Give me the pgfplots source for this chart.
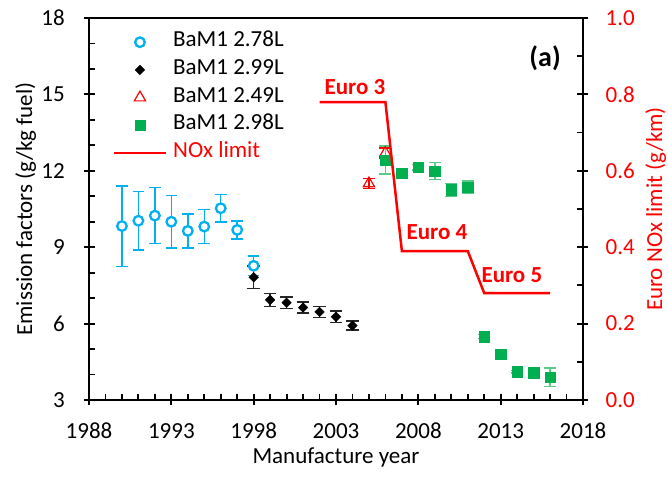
\documentclass[border=0pt]{standalone}
\usepackage{fontspec}
\setmainfont{Carlito}
\usepackage{pgfplots}
\pgfplotsset{compat=1.18}
\definecolor{ltblue}{RGB}{0,176,240}
\definecolor{exgreen}{RGB}{0,176,80}
\definecolor{exgreenbar}{RGB}{90,200,135}

\begin{document}
\begin{tikzpicture}[font=\fontsize{23bp}{27bp}\selectfont]
\pgfplotsset{
  legimg/.style={legend image code/.code={%
      \draw[mark repeat=2,mark phase=2,##1] plot coordinates {(0bp,0bp)(26bp,0bp)(52bp,0bp)};}},
  common/.style={
    scale only axis, width=494bp, height=382bp,
    xmin=1988, xmax=2018,
    /pgf/number format/assume math mode=true,
    axis line style={line width=2.4bp},
    tick align=inside,
    major tick length=11bp, minor tick length=6bp,
    tick style={black, line width=1.8bp},
    tick label style={font=\fontsize{23bp}{27bp}\selectfont},
    label style={font=\fontsize{23bp}{27bp}\selectfont},
  },
}
% left axis: emission factors
\begin{axis}[common,
  ymin=3, ymax=18, ytick={3,6,...,18}, minor y tick num=2,
  xtick={1988,1993,...,2018}, minor x tick num=4,
  xtick pos=left, ytick pos=left,
  every major x tick/.append style={yshift=-5bp},
  every major y tick/.append style={xshift=-5bp},
  xticklabel style={/pgf/number format/1000 sep={}, anchor=north, inner sep=0pt, yshift=-23bp},
  yticklabel style={anchor=east, inner sep=0pt, xshift=-24bp},
  xlabel={Manufacture year},
  ylabel={Emission factors (g/kg fuel)},
  every axis x label/.style={at={(axis description cs:0.5,-0.165)}, anchor=base},
  every axis y label/.style={at={(axis description cs:-0.115,0.5)}, rotate=90, anchor=base},
  legend cell align=left,
  legend style={draw=none, fill=none, at={(axis description cs:0.048,0.9641)}, anchor=north west,
    inner sep=0pt, outer sep=0pt, row sep=6.7bp, column sep=6bp,
    nodes={inner sep=0pt, text height=15bp, text depth=6bp},
    font=\fontsize{23bp}{27bp}\selectfont},
]
\addplot[only marks, mark=*, mark size=4.8bp, line width=2.3bp,
  mark options={draw=ltblue, fill=white}, legimg,
  error bars/.cd, y dir=both, y explicit,
  error bar style={draw=ltblue, line width=1.5bp},
  error mark options={rotate=90, draw=ltblue, line width=1.5bp, mark size=5.8bp}]
coordinates {
  (1990,9.83) +- (0,1.58)
  (1991,10.04) +- (0,1.15)
  (1992,10.24) +- (0,1.10)
  (1993,10.00) +- (0,1.03)
  (1994,9.64) +- (0,0.67)
  (1995,9.81) +- (0,0.67)
  (1996,10.53) +- (0,0.54)
  (1997,9.68) +- (0,0.35)
  (1998,8.27) +- (0,0.38)
};
\addlegendentry{BaM1 2.78L}
\addplot[only marks, mark=square*, mark size=3.4bp,
  mark options={black, fill=black, rotate=45}, legimg,
  error bars/.cd, y dir=both, y explicit,
  error bar style={black!85, line width=1.5bp},
  error mark options={rotate=90, black!85, line width=1.5bp, mark size=6.2bp}]
coordinates {
  (1998,7.82) +- (0,0.45)
  (1999,6.93) +- (0,0.25)
  (2000,6.82) +- (0,0.22)
  (2001,6.63) +- (0,0.21)
  (2002,6.46) +- (0,0.22)
  (2003,6.27) +- (0,0.22)
  (2004,5.92) +- (0,0.18)
};
\addlegendentry{BaM1 2.99L}
\addplot[only marks, mark=triangle, mark size=6.5bp,
  mark options={red, line width=1.2bp}, legimg,
  error bars/.cd, y dir=both, y explicit,
  error bar style={red, line width=1.5bp},
  error mark options={rotate=90, red, line width=1.5bp, mark size=6bp}]
coordinates {
  (2005,11.5) +- (0,0.2)
  (2006,12.7) +- (0,0.2)
};
\addlegendentry{BaM1 2.49L}
\addplot[only marks, mark=square*, mark size=5.2bp,
  mark options={exgreen, fill=exgreen}, legimg,
  error bars/.cd, y dir=both, y explicit,
  error bar style={exgreenbar, line width=1.5bp},
  error mark options={rotate=90, exgreenbar, line width=1.5bp, mark size=6bp}]
coordinates {
  (2006,12.42) +- (0,0.55)
  (2007,11.90) +- (0,0.10)
  (2008,12.14) +- (0,0.10)
  (2009,11.99) +- (0,0.34)
  (2010,11.25) +- (0,0.25)
  (2011,11.35) +- (0,0.24)
  (2012,5.49) +- (0,0.08)
  (2013,4.81) +- (0,0.08)
  (2014,4.11) +- (0,0.05)
  (2015,4.07) +- (0,0.07)
  (2016,3.89) +- (0,0.36)
};
\addlegendentry{BaM1 2.98L}
\addlegendimage{red, line width=2.5bp, legimg}
\addlegendentry{\textcolor{red}{NOx limit}}
\end{axis}
% right axis: Euro NOx limit
\begin{axis}[common,
  axis x line=none, axis y line*=right,
  ymin=0, ymax=1, ytick={0,0.2,0.4,0.6,0.8,1}, minor y tick num=1,
  every major y tick/.append style={xshift=5bp},
  yticklabel style={anchor=west, inner sep=0pt, xshift=22.5bp, text=red,
    /pgf/number format/fixed, /pgf/number format/fixed zerofill, /pgf/number format/precision=1},
  ylabel={Euro NOx limit (g/km)},
  every axis y label/.style={at={(axis description cs:1.160,0.5)}, rotate=90, anchor=base, text=red},
]
\addplot[red, line width=2.5bp] coordinates {
  (2002,0.78) (2006,0.78) (2007,0.39) (2011,0.39) (2012,0.28) (2016,0.28)
};
\node[text=red, font=\fontsize{23bp}{27bp}\selectfont\bfseries] at (axis cs:2004.15,0.819) {Euro 3};
\node[text=red, font=\fontsize{23bp}{27bp}\selectfont\bfseries] at (axis cs:2009.13,0.44) {Euro 4};
\node[text=red, font=\fontsize{23bp}{27bp}\selectfont\bfseries] at (axis cs:2013.68,0.327) {Euro 5};
\node[font=\fontsize{28bp}{32bp}\selectfont\bfseries] at (axis cs:2015.7,0.895) {(a)};
\end{axis}
\pgfresetboundingbox
\path[use as bounding box] (-89bp,-77bp) rectangle (579bp,400bp);
\end{tikzpicture}
\end{document}
